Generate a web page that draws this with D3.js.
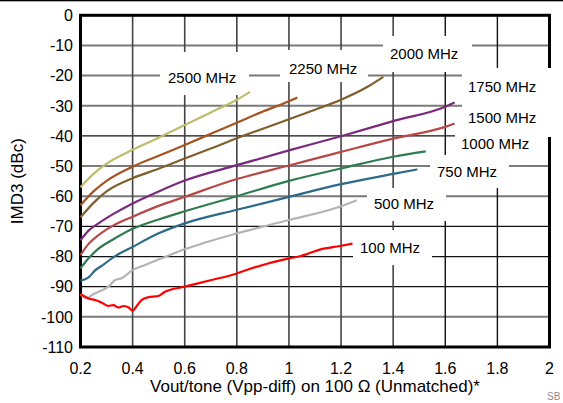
<!DOCTYPE html>
<html>
<head>
<meta charset="utf-8">
<script src="https://cdn.jsdelivr.net/npm/d3@7"></script>
<style>
  html, body { margin: 0; padding: 0; background: #fff; }
  svg { display: block; font-family: "Liberation Sans", Arial, sans-serif; }
</style>
</head>
<body>
<svg id="chart" width="563" height="403"></svg>
<script>
// ---- data ----
const xTicks = [0.2, 0.4, 0.6, 0.8, 1, 1.2, 1.4, 1.6, 1.8, 2];
const yTicks = [0, -10, -20, -30, -40, -50, -60, -70, -80, -90, -100, -110];

const s2500 = [[0.2,-57],[0.25,-52.6],[0.3,-49.2],[0.4,-44.6],[0.5,-40.6],[0.6,-36.4],[0.7,-32.2],[0.8,-28],[0.851,-25.4]];
const s2250 = [[0.2,-63],[0.25,-58.4],[0.3,-54.9],[0.4,-50.2],[0.5,-46.6],[0.6,-43],[0.7,-39.3],[0.8,-35.6],[0.9,-31.9],[1.0,-28.5],[1.032,-27.3]];
const s2000 = [[0.2,-67],[0.25,-62.2],[0.3,-58.4],[0.4,-54],[0.5,-50.9],[0.6,-47.5],[0.7,-44.2],[0.8,-40.8],[0.9,-37.6],[1.0,-34.5],[1.1,-31.3],[1.2,-28],[1.3,-23.8],[1.362,-20.4]];
const s1750 = [[0.2,-74.6],[0.231,-71.4],[0.269,-69],[0.32,-66.2],[0.4,-62.4],[0.5,-58.4],[0.6,-54.8],[0.8,-49.7],[1.0,-44.8],[1.2,-40.1],[1.4,-35.1],[1.6,-30.3],[1.636,-28.9]];
const s1500 = [[0.2,-79.5],[0.231,-75.8],[0.269,-72.9],[0.32,-70],[0.4,-66.8],[0.5,-63.2],[0.6,-60.2],[0.8,-54.3],[1.0,-49.8],[1.2,-45.3],[1.4,-40.9],[1.6,-37],[1.636,-35.9]];
const s1000 = [[0.2,-83.9],[0.231,-80.6],[0.269,-77.4],[0.32,-74.6],[0.4,-70.8],[0.5,-67.7],[0.6,-65],[0.8,-60],[1.0,-54.9],[1.2,-50.8],[1.4,-46.9],[1.525,-45.1]];
const s750  = [[0.2,-88],[0.231,-86.9],[0.256,-84.6],[0.288,-82.7],[0.32,-80.6],[0.4,-76.8],[0.5,-72.3],[0.6,-69],[0.8,-64.5],[1.0,-60.2],[1.2,-56],[1.4,-52.6],[1.493,-51.1]];
const s500  = [[0.2,-92.4],[0.224,-93.9],[0.243,-92.8],[0.269,-91.7],[0.307,-90],[0.333,-87.8],[0.358,-87.2],[0.4,-84.5],[0.448,-82.8],[0.511,-80.6],[0.6,-77.6],[0.8,-72.3],[1.0,-67.9],[1.2,-63.3],[1.26,-61.3]];
const s100  = [[0.2,-92.4],[0.231,-93.9],[0.256,-94.4],[0.282,-95.3],[0.307,-96.4],[0.326,-96.1],[0.346,-96.9],[0.365,-96.4],[0.385,-96.9],[0.4,-98],[0.416,-96.4],[0.435,-94.4],[0.46,-93.5],[0.499,-93.1],[0.524,-91.7],[0.6,-90],[0.703,-87.8],[0.8,-85.6],[0.843,-84.3],[1.0,-80.6],[1.043,-79.9],[1.119,-77.7],[1.196,-76.5],[1.244,-75.7]];

const seriesNames  = ["2500 MHz","2250 MHz","2000 MHz","1750 MHz","1500 MHz","1000 MHz","750 MHz","500 MHz","100 MHz"];
const seriesValues = [s2500, s2250, s2000, s1750, s1500, s1000, s750, s500, s100];

const xTitle = "Vout/tone (Vpp-diff) on 100 \u03A9 (Unmatched)*";
const yTitle = "IMD3 (dBc)";
const docId  = "SB";

// ---- styling / layout ----
const colors = ["#bdbd6c","#a6531f","#7f5f2c","#7b2b7e","#b84848","#2e7c50","#2c6a8a","#b4b4b4","#ff0000"];
const L = 80.5, R = 549.5, T = 15.3, B = 347;

const svg = d3.select("#chart");
const x = d3.scaleLinear().domain([0.2, 2]).range([L, R]);
const y = d3.scaleLinear().domain([-110, 0]).range([B, T]);

// top rule line
svg.append("rect").attr("x",0).attr("y",0).attr("width",563).attr("height",1.3).attr("fill","#000");

// gridlines
const grayH = new Set([-10,-20,-30,-50,-60,-100]);
svg.append("g").selectAll("line").data(yTicks.filter(d => d > -110 && d < 0)).join("line")
  .attr("x1", L).attr("x2", R).attr("y1", d => y(d)).attr("y2", d => y(d))
  .attr("stroke", d => grayH.has(d) ? "#7a7a7a" : "#111")
  .attr("stroke-width", d => grayH.has(d) ? 2 : 1.3);
svg.append("g").selectAll("line").data(xTicks.filter(d => d > 0.2 && d < 2)).join("line")
  .attr("y1", T).attr("y2", B).attr("x1", d => x(d)).attr("x2", d => x(d))
  .attr("stroke", d => d >= 1.6 ? "#111" : "#444")
  .attr("stroke-width", d => d >= 1.6 ? 1.4 : 1.6);

// frame
svg.append("rect").attr("x", L).attr("y", T).attr("width", R - L).attr("height", B - T)
  .attr("fill", "none").attr("stroke", "#000").attr("stroke-width", 3);

// white label boxes (break gridlines)
const boxes = [[160,52,249,95],[280,50,368,82],[383,36,472,72],[462,68,563,137],[455,132,543,158],[430,155,509,188],[367,188,446,221],[353,230,432,265]];
svg.append("g").selectAll("rect").data(boxes).join("rect")
  .attr("x", d => d[0]).attr("y", d => d[1]).attr("width", d => d[2]-d[0]).attr("height", d => d[3]-d[1])
  .attr("fill", "#fff");

// curves
const line = d3.line().x(d => x(d[0])).y(d => y(d[1])).curve(d3.curveMonotoneX);
svg.append("g").selectAll("path").data(seriesValues).join("path")
  .attr("d", line).attr("fill", "none")
  .attr("stroke", (d,i) => colors[i]).attr("stroke-width", 2.2)
  .attr("stroke-linejoin", "round").attr("stroke-linecap", "butt");

// series labels
const labelPos = [[168,83],[289,74],[390,59],[468,92],[468,122.5],[461,148.5],[437,177],[374,209],[360,252.5]];
svg.append("g").selectAll("text").data(seriesNames).join("text")
  .attr("x", (d,i) => labelPos[i][0]).attr("y", (d,i) => labelPos[i][1])
  .attr("font-size", 15).attr("fill", "#000").text(d => d);

// tick labels
svg.append("g").selectAll("text").data(yTicks).join("text")
  .attr("x", 73).attr("y", d => y(d)).attr("dy", "0.36em")
  .attr("text-anchor", "end").attr("font-size", 16).text(d => d);
svg.append("g").selectAll("text").data(xTicks).join("text")
  .attr("x", d => x(d)).attr("y", 373.5)
  .attr("text-anchor", "middle").attr("font-size", 16).text(d => d);

// axis titles
svg.append("text").attr("x", (L + R) / 2).attr("y", 391.5).attr("text-anchor", "middle")
  .attr("font-size", 17).text(xTitle);
svg.append("text").attr("transform", `translate(23,${(T + B) / 2}) rotate(-90)`)
  .attr("text-anchor", "middle").attr("font-size", 17).text(yTitle);

// document id at bottom-right corner
svg.append("text").attr("x", 547).attr("y", 400).attr("font-size", 10).attr("fill", "#8a8a8a").text(docId);
</script>
</body>
</html>
